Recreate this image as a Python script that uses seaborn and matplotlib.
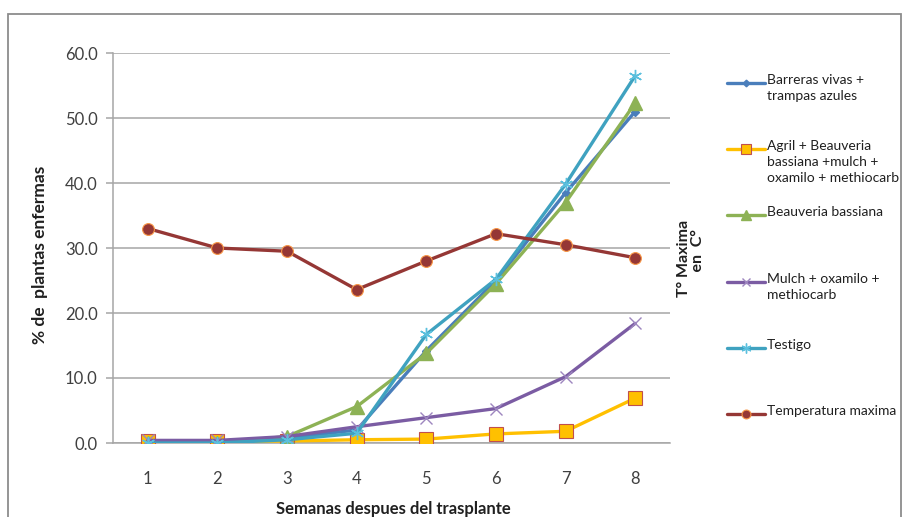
import matplotlib
matplotlib.use("Agg")
import matplotlib.pyplot as plt
from matplotlib.lines import Line2D
from matplotlib.patches import Rectangle
import seaborn as sns
import pandas as pd

# Weeks after transplant
semanas = [1, 2, 3, 4, 5, 6, 7, 8]

# % of diseased plants per treatment, and weekly max temperature
barreras = [0.2, 0.2, 0.8, 2.0, 14.2, 25.0, 38.5, 51.0]
agril = [0.3, 0.3, 0.3, 0.5, 0.6, 1.4, 1.8, 6.9]
beauveria = [0.0, 0.0, 1.0, 5.6, 13.8, 24.5, 37.0, 52.3]
mulch = [0.4, 0.4, 1.0, 2.5, 3.9, 5.3, 10.2, 18.4]
testigo = [0.0, 0.0, 0.5, 1.5, 16.7, 25.2, 39.8, 56.5]
temperatura = [33.0, 30.0, 29.5, 23.6, 28.0, 32.2, 30.5, 28.5]

etiquetas = [
    "Barreras vivas +\ntrampas azules",
    "Agril + Beauveria\nbassiana +mulch +\noxamilo + methiocarb",
    "Beauveria bassiana",
    "Mulch + oxamilo +\nmethiocarb",
    "Testigo",
    "Temperatura maxima",
]
yticks = [0, 10, 20, 30, 40, 50, 60]

series = [barreras, agril, beauveria, mulch, testigo, temperatura]

estilos = [
    dict(color="#4A7EBB", marker="D", markersize=4.5, mfc="#4A7EBB", mec="#4A7EBB", mew=1),
    dict(color="#FFC000", marker="s", markersize=9.5, mfc="#FFC000", mec="#C0504D", mew=0.8),
    dict(color="#8DB255", marker="^", markersize=9.5, mfc="#8DB255", mec="#8DB255", mew=1),
    dict(color="#7B5CA3", marker="x", markersize=8.5, mfc="#9D86BF", mec="#9D86BF", mew=1.0),
    dict(color="#3FA2C0", marker=(6, 2, 0), markersize=9.5, mfc="#5BC0DE", mec="#5BC0DE", mew=1.0),
    dict(color="#953735", marker="o", markersize=8.5, mfc="#953735", mec="#F79646", mew=0.8),
]

df = pd.DataFrame({"semana": semanas})
for i, s in enumerate(series):
    df[f"s{i}"] = s

sns.set_style("white")
plt.rcParams["font.family"] = ["Lato", "DejaVu Sans"]

W, H = 903, 517
fig = plt.figure(figsize=(W / 100, H / 100), dpi=100)

# outer chart frame
fig.patches.append(Rectangle((8 / W, -0.05), (901 - 8) / W, (H - 14) / H + 0.05,
                             transform=fig.transFigure, fill=False,
                             edgecolor="#8C8C8C", linewidth=1.3))

ax = fig.add_axes([113 / W, 1 - 443 / H, (670 - 113) / W, (443 - 53) / H])

for i, st in enumerate(estilos):
    sns.lineplot(data=df, x="semana", y=f"s{i}", ax=ax, color=st["color"],
                 linewidth=2.4, marker=st["marker"], markersize=st["markersize"],
                 markerfacecolor=st["mfc"], markeredgecolor=st["mec"],
                 markeredgewidth=st["mew"], legend=False, zorder=3 + i)

ax.set_xlim(0.5, 8.5)
ax.set_ylim(0, 60)
ax.set_xticks(semanas)
ax.set_xticklabels([str(s) for s in semanas])
ax.set_yticks(yticks)
ax.set_yticklabels([f"{v:.1f}" for v in yticks])
ax.grid(axis="y", color="#A6A6A6", linewidth=1.1)
ax.grid(axis="x", visible=False)
for side in ["top", "right"]:
    ax.spines[side].set_visible(False)
ax.spines["left"].set_color("#A6A6A6")
ax.spines["bottom"].set_color("#A6A6A6")
ax.spines["left"].set_linewidth(1.1)
ax.spines["bottom"].set_linewidth(1.1)
ax.tick_params(axis="y", which="major", length=5, color="#A6A6A6", width=1.1,
               labelsize=12, labelcolor="#404040", pad=6, left=True)
ax.tick_params(axis="x", length=0, labelsize=12, labelcolor="#404040", pad=20)
ax.set_xlabel("")
ax.set_ylabel("")

fig.text(40 / W, 1 - 255 / H, "% de  plantas enfermas", rotation=90, ha="center",
         va="center", fontsize=12.5, fontweight="bold", color="#202020")
fig.text(393 / W, 1 - 509 / H, "Semanas despues del trasplante", ha="center",
         va="center", fontsize=12, fontweight="bold", color="#202020")
fig.text(691 / W, 1 - 258 / H, "T° Maxima\n    en  C°", rotation=90, ha="center",
         va="center", fontsize=11.5, fontweight="bold", color="#202020",
         linespacing=1.0)

# legend entries: line sample beside the first text line
leg_y = [83, 149, 215, 282, 348, 414]
for st, lab, yy in zip(estilos, etiquetas, leg_y):
    yf = 1 - yy / H
    fig.add_artist(Line2D([727 / W, 765 / W], [yf, yf], transform=fig.transFigure,
                          color=st["color"], linewidth=2.4))
    fig.add_artist(Line2D([746 / W], [yf], transform=fig.transFigure,
                          marker=st["marker"], markersize=st["markersize"] * 0.75,
                          markerfacecolor=st["mfc"], markeredgecolor=st["mec"],
                          markeredgewidth=st["mew"], color=st["color"]))
    fig.text(767 / W, yf + 9 / H, lab, ha="left", va="top", fontsize=10,
             family=["Lato", "DejaVu Sans"], color="#202020",
             linespacing=1.4)

fig.savefig("out.png", dpi=100)
